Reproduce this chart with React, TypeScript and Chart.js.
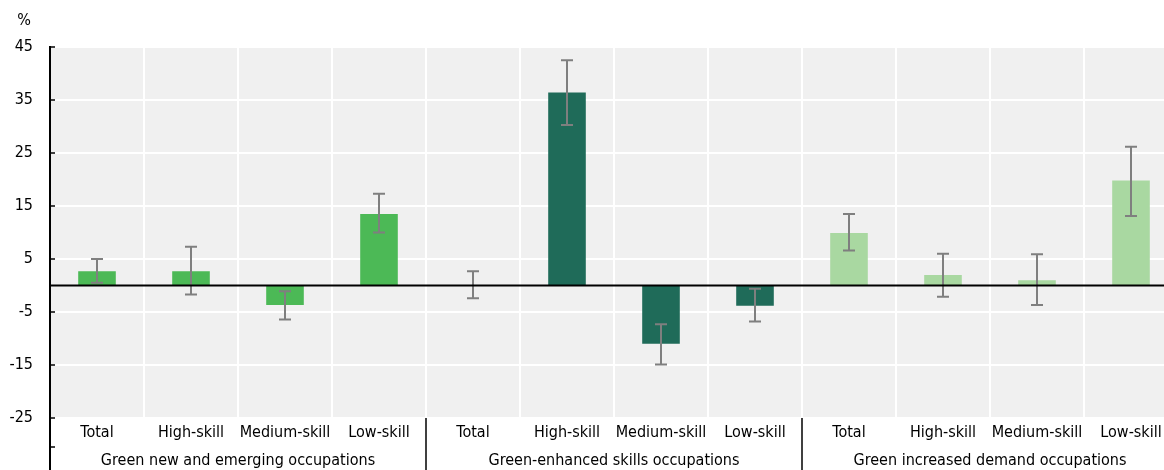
import React, { useEffect, useRef } from 'react';
import { Chart, registerables } from 'chart.js';

Chart.register(...registerables);

const categories = [
  'Total', 'High-skill', 'Medium-skill', 'Low-skill',
  'Total', 'High-skill', 'Medium-skill', 'Low-skill',
  'Total', 'High-skill', 'Medium-skill', 'Low-skill',
];
const groupLabels = [
  'Green new and emerging occupations',
  'Green-enhanced skills occupations',
  'Green increased demand occupations',
];
const groupSize = 4;
const values = [2.7, 2.7, -3.7, 13.5, 0.1, 36.4, -11.0, -3.8, 9.9, 2.0, 1.0, 19.8];
const errLow = [0.5, -1.7, -6.4, 10.0, -2.4, 30.3, -14.9, -6.8, 6.6, -2.1, -3.7, 13.1];
const errHigh = [5.0, 7.3, -1.1, 17.3, 2.7, 42.5, -7.3, -0.6, 13.5, 6.0, 5.9, 26.2];
const groupColors = ['#4CB956', '#1F6B59', '#A9D8A1'];
const yMin = -25;
const yMax = 45;
const yStep = 10;
const yUnit = '%';

const FONT = "'Liberation Sans Narrow', 'Arial Narrow', 'DejaVu Sans Condensed', sans-serif";

const overlay = {
  id: 'overlay',
  beforeDraw(chart: any) {
    const { ctx, chartArea } = chart;
    ctx.save();
    ctx.fillStyle = '#F0F0F0';
    ctx.fillRect(chartArea.left, chartArea.top, chartArea.right - chartArea.left, chartArea.bottom - chartArea.top);
    ctx.restore();
  },
  afterDatasetsDraw(chart: any) {
    const { ctx, chartArea, scales } = chart;
    const x = scales.x;
    const y = scales.y;
    const H = chart.height;
    ctx.save();
    // error bars
    ctx.strokeStyle = '#7F7F7F';
    ctx.lineWidth = 2;
    for (let i = 0; i < values.length; i++) {
      const cx = x.getPixelForValue(i);
      const yt = y.getPixelForValue(errHigh[i]);
      const yb = y.getPixelForValue(errLow[i]);
      ctx.beginPath();
      ctx.moveTo(cx, yt);
      ctx.lineTo(cx, yb);
      ctx.moveTo(cx - 6, yt);
      ctx.lineTo(cx + 6, yt);
      ctx.moveTo(cx - 6, yb);
      ctx.lineTo(cx + 6, yb);
      ctx.stroke();
    }
    // zero line
    const y0 = y.getPixelForValue(0);
    ctx.strokeStyle = '#000';
    ctx.lineWidth = 2;
    ctx.beginPath();
    ctx.moveTo(chartArea.left, y0);
    ctx.lineTo(chartArea.right, y0);
    ctx.stroke();
    // left axis
    ctx.beginPath();
    ctx.moveTo(chartArea.left, chartArea.top - 1);
    ctx.lineTo(chartArea.left, H);
    ctx.stroke();
    // y ticks inward
    ctx.lineWidth = 1.5;
    for (let v = yMin; v <= yMax; v += yStep) {
      const py = y.getPixelForValue(v);
      ctx.beginPath();
      ctx.moveTo(chartArea.left, py);
      ctx.lineTo(chartArea.left + 5, py);
      ctx.stroke();
    }
    ctx.beginPath();
    ctx.moveTo(chartArea.left, chartArea.bottom + 29);
    ctx.lineTo(chartArea.left + 5, chartArea.bottom + 29);
    ctx.stroke();
    // group separators
    ctx.lineWidth = 1.5;
    const catW = (chartArea.right - chartArea.left) / categories.length;
    for (let g = 1; g < groupLabels.length; g++) {
      const sx = chartArea.left + g * groupSize * catW;
      ctx.beginPath();
      ctx.moveTo(sx, chartArea.bottom);
      ctx.lineTo(sx, H);
      ctx.stroke();
    }
    // group labels
    ctx.fillStyle = '#000';
    ctx.font = `16px ${FONT}`;
    ctx.textAlign = 'center';
    ctx.textBaseline = 'middle';
    for (let g = 0; g < groupLabels.length; g++) {
      const gx = chartArea.left + (g * groupSize + groupSize / 2) * catW;
      ctx.fillText(groupLabels[g], gx, chartArea.bottom + 43);
    }
    // unit label
    ctx.textAlign = 'center';
    ctx.textBaseline = 'middle';
    ctx.fillText(yUnit, 24, 21);
    ctx.restore();
  },
};

export default function App() {
  const ref = useRef<HTMLCanvasElement | null>(null);
  useEffect(() => {
    if (!ref.current) return;
    const colors = values.map((_, i) => groupColors[Math.floor(i / groupSize)]);
    const chart = new Chart(ref.current, {
      type: 'bar',
      data: {
        labels: categories,
        datasets: [
          {
            data: values,
            backgroundColor: colors,
            borderWidth: 0,
            barPercentage: 0.4,
            categoryPercentage: 1,
          },
        ],
      },
      options: {
        animation: false,
        responsive: false,
        maintainAspectRatio: false,
        devicePixelRatio: 1,
        layout: { padding: { top: 47, right: 2, left: 0, bottom: 0 } },
        plugins: { legend: { display: false }, tooltip: { enabled: false } },
        scales: {
          x: {
            grid: { color: '#FFFFFF', lineWidth: 2, drawTicks: false, offset: true },
            border: { display: false },
            ticks: { color: '#000', font: { family: FONT, size: 16 }, padding: 5, maxRotation: 0, autoSkip: false },
            afterFit: (s: any) => { s.height = 52; },
          },
          y: {
            min: yMin,
            max: yMax,
            grid: { color: '#FFFFFF', lineWidth: 2, drawTicks: false },
            border: { display: false },
            ticks: { stepSize: yStep, color: '#000', font: { family: FONT, size: 16 }, padding: 17 },
            afterFit: (s: any) => { s.width = 50; },
          },
        },
      },
      plugins: [overlay],
    });
    return () => chart.destroy();
  }, []);
  return (
    <div style={{ position: 'fixed', left: 0, top: 0, width: '1164px', height: '470px', overflow: 'hidden', background: '#fff' }}>
      <canvas ref={ref} width={1180} height={470} style={{ display: 'block', width: '1180px', height: '470px' }} />
    </div>
  );
}
